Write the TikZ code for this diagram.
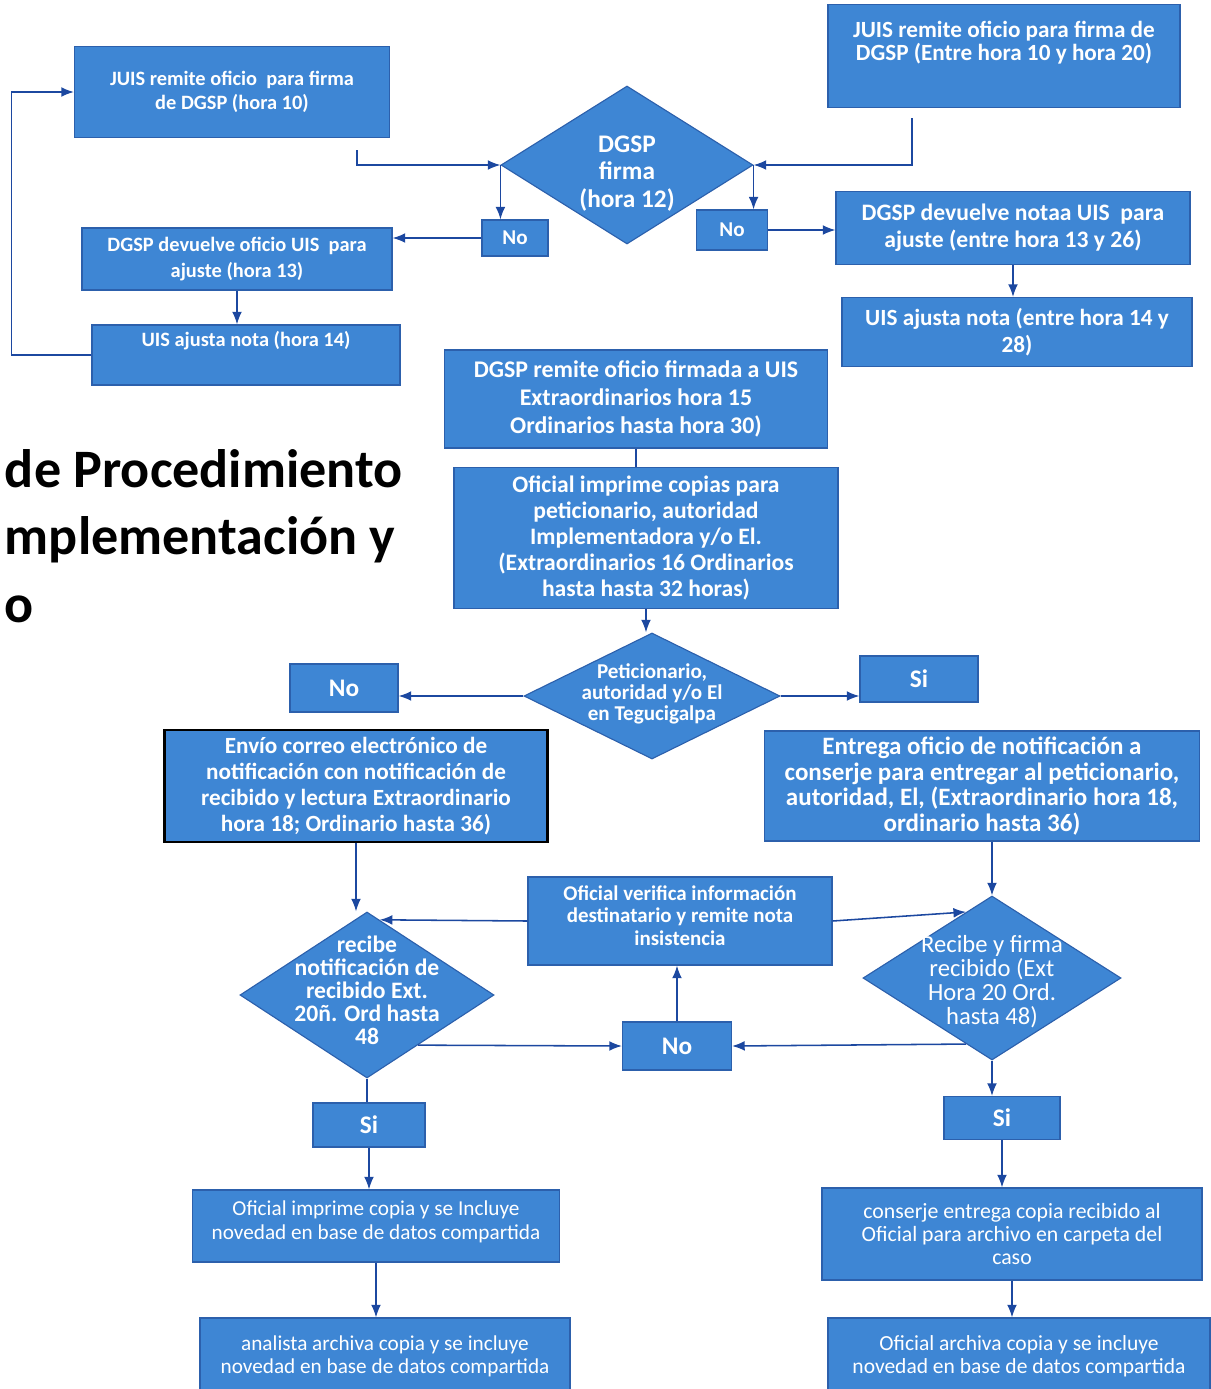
\documentclass[tikz,border=0pt]{standalone}
\usepackage{fontspec}
\setmainfont{Carlito}
\usepackage{xcolor}
\usetikzlibrary{shapes.geometric,arrows.meta,calc,positioning}

\definecolor{boxblue}{RGB}{62,134,212}
\definecolor{boxedge}{RGB}{44,96,172}
\definecolor{lineblue}{RGB}{28,72,160}
\def\pu{0.025cm}
\newcommand{\bsz}[2]{\bfseries\fontsize{#1}{#2}\selectfont}
\newcommand{\msz}[2]{\mdseries\fontsize{#1}{#2}\selectfont}
% text of a decision that may run over the diamond, as in the original
\newcommand{\zerotext}[2][-3pt]{\makebox[0pt]{\raisebox{#1}[0pt][0pt]{\begin{tabular}{@{}c@{}}#2\end{tabular}}}}

\begin{document}
\begin{tikzpicture}[
    x=0.025cm, y=-0.025cm,
    proc/.style={rectangle, draw=boxedge, line width=0.8pt, fill=boxblue, text=white, align=center, inner sep=2pt, font=\bsz{15}{18.5}},
    answer/.style={proc, font=\bsz{18}{20}},
    choice/.style={diamond, draw=boxedge, line width=0.8pt, fill=boxblue, text=white, inner sep=0pt, font=\bsz{16}{15.5}},
    dims/.style 2 args={minimum width=#1*\pu, minimum height=#2*\pu},
    flow/.style={->, >={Latex[length=9pt,width=7pt]}, draw=lineblue, line width=1.1pt},
    link/.style={draw=lineblue, line width=1.1pt},
    title/.style={anchor=west, align=left, font=\bsz{38.5}{48}}
]
    \useasboundingbox (0,0) rectangle (1211,1389);

    % Title (cut at the left edge)
    \node[title] (ttl) at (0,536) {de Procedimiento\\mplementación y\\o};

    % First signature, left branch
    \node[proc, dims={315}{91}, font=\bsz{14.5}{17.5}] (juisA) at (232,92) {JUIS remite oficio\ \ para firma\\de DGSP (hora 10)};
    \node[proc, dims={310}{62}, font=\bsz{14.5}{18}] (devA) at (237,259) {DGSP devuelve oficio UIS\ \ para\\ajuste (hora 13)};
    \node[proc, dims={308}{60}, font=\bsz{14.5}{18}] (ajuA) at (246,355) {UIS ajusta nota (hora 14)\\ \strut};
    \node[choice, dims={252}{158}, font=\bsz{18}{19.5}] (firma) at (627,165) {\zerotext[-11pt]{DGSP\\firma\\(hora 12)}};
    \node[answer, dims={66}{36}, font=\bsz{15}{17}] (noA) at (515,238) {No};

    % Second signature, right branch
    \node[proc, dims={352}{103}, font=\bsz{16.5}{16.5}] (juisB) at (1004,56) {JUIS remite oficio para firma de\\DGSP (Entre hora 10 y hora 20)\\ \strut};
    \node[answer, dims={71}{40}, font=\bsz{15}{17}] (noB) at (732,230) {No};
    \node[proc, dims={354}{73}, font=\bsz{16.8}{19}] (devB) at (1013,228) {DGSP devuelve notaa UIS\ \ para\\ajuste (entre hora 13 y 26)};
    \node[proc, dims={350}{69}, font=\bsz{16.5}{19}] (ajuB) at (1017,332) {UIS ajusta nota (entre hora 14 y\\28)};

    % Signed note and copies
    \node[proc, dims={383}{98}, font=\bsz{17}{20}] (remite) at (636,399) {DGSP remite oficio firmada a UIS\\Extraordinarios hora 15\\Ordinarios hasta hora 30)};
    \node[proc, dims={384}{141}, font=\bsz{16.8}{18.5}] (imprime) at (646,538) {Oficial imprime copias para\\peticionario, autoridad\\Implementadora y/o El.\\(Extraordinarios 16 Ordinarios\\hasta hasta 32 horas)};
    \node[choice, dims={256}{126}, font=\bsz{15}{14}] (teguc) at (652,696) {\zerotext{Peticionario,\\autoridad y/o El\\en Tegucigalpa}};
    \node[answer, dims={108}{48}] (noC) at (344,688) {No};
    \node[answer, dims={118}{46}] (siC) at (919,679) {Si};

    % Notification
    \node[proc, dims={383}{112}, draw=black, line width=2pt, font=\bsz{16.5}{18.5}] (envio) at (356,786) {Envío correo electrónico de\\notificación con notificación de\\recibido y lectura Extraordinario\\hora 18; Ordinario hasta 36)};
    \node[proc, dims={435}{110}, font=\bsz{17.8}{18.2}] (entrega) at (982,786) {Entrega oficio de notificación a\\conserje para entregar al peticionario,\\autoridad, El, (Extraordinario hora 18,\\ordinario hasta 36)};

    % Receipt
    \node[choice, dims={254}{166}, font=\bsz{16.8}{15.5}] (recibeA) at (367,995) {\zerotext{recibe\\notificación de\\recibido Ext.\\20ñ. Ord hasta\\48}};
    \node[proc, dims={304}{88}, font=\bsz{14.9}{16}] (verifica) at (680,921) {Oficial verifica información\\destinatario y remite nota\\insistencia\\[-8pt]\mbox{}};
    \node[choice, dims={258}{164}, font=\msz{17.5}{15.5}] (recibeB) at (992,978) {\zerotext[-8pt]{Recibe y firma\\recibido (Ext\\Hora 20 Ord.\\hasta 48)}};
    \node[answer, dims={109}{48}] (noD) at (677,1046) {No};

    % Filing
    \node[answer, dims={112}{44}] (siA) at (369,1125) {Si};
    \node[proc, dims={367}{72}, font=\msz{15.1}{16.5}] (copiaA) at (376,1226) {Oficial imprime copia y se Incluye\\novedad en base de datos compartida\\[-8pt]\mbox{}};
    \node[proc, dims={370}{76}, font=\msz{15.1}{16.5}] (archA) at (385,1356) {analista archiva copia y se incluye\\novedad en base de datos compartida};
    \node[answer, dims={116}{43}] (siB) at (1002,1118) {Si};
    \node[proc, dims={380}{92}, font=\msz{15.5}{16.5}] (copiaB) at (1012,1234) {conserje entrega copia recibido al\\Oficial para archivo en carpeta del\\caso};
    \node[proc, dims={382}{76}, font=\msz{15.3}{16.5}] (archB) at (1019,1356) {Oficial archiva copia y se incluye\\novedad en base de datos compartida};

    % Connectors, top
    \coordinate (jA) at (357,150);
    \coordinate (jB) at (912,118);
    \draw[flow] (jA) |- (firma.west);
    \draw[flow] (firma.west) -- (firma.west |- noA.north);
    \draw[flow] (noA.west) -- (noA.west -| devA.east);
    \draw[flow] (devA.south) -- (devA.south |- ajuA.north);
    \draw[flow] (ajuA.west) -- ++(-80,0) |- (juisA.west);
    \draw[flow] (jB) |- (firma.east);
    \draw[flow] (firma.east) -- (firma.east |- noB.north);
    \draw[flow] (noB.east) -- (noB.east -| devB.west);
    \draw[flow] (devB.south) -- (devB.south |- ajuB.north);

    % Connectors, middle
    \draw[link] (remite.south) -- (remite.south |- imprime.north);
    \draw[flow] (imprime.south) -- (imprime.south |- teguc.north);
    \draw[flow] (teguc.west) -- (teguc.west -| noC.east);
    \draw[flow] (teguc.east) -- (teguc.east -| siC.west);
    \draw[flow] (envio.south) -- (envio.south |- recibeA.north);
    \draw[flow] (recibeB.north |- entrega.south) -- (recibeB.north);

    % Connectors, bottom
    \draw[flow] (verifica.west) -- ($(recibeA.north)!0.1!(recibeA.east)$);
    \draw[flow] (verifica.east) -- ($(recibeB.north)!0.2!(recibeB.west)$);
    \draw[flow] ($(recibeA.east)!0.6!(recibeA.south)$) -- (noD.west);
    \draw[flow] ($(recibeB.west)!0.8!(recibeB.south)$) -- (noD.east);
    \draw[flow] (noD.north) -- (noD.north |- verifica.south);
    \draw[link] (recibeA.south) -- (recibeA.south |- siA.north);
    \draw[flow] (siA.south) -- (siA.south |- copiaA.north);
    \draw[flow] (copiaA.south) -- (copiaA.south |- archA.north);
    \draw[flow] (recibeB.south) -- (recibeB.south |- siB.north);
    \draw[flow] (siB.south) -- (siB.south |- copiaB.north);
    \draw[flow] (copiaB.south) -- (copiaB.south |- archB.north);
\end{tikzpicture}
\end{document}
